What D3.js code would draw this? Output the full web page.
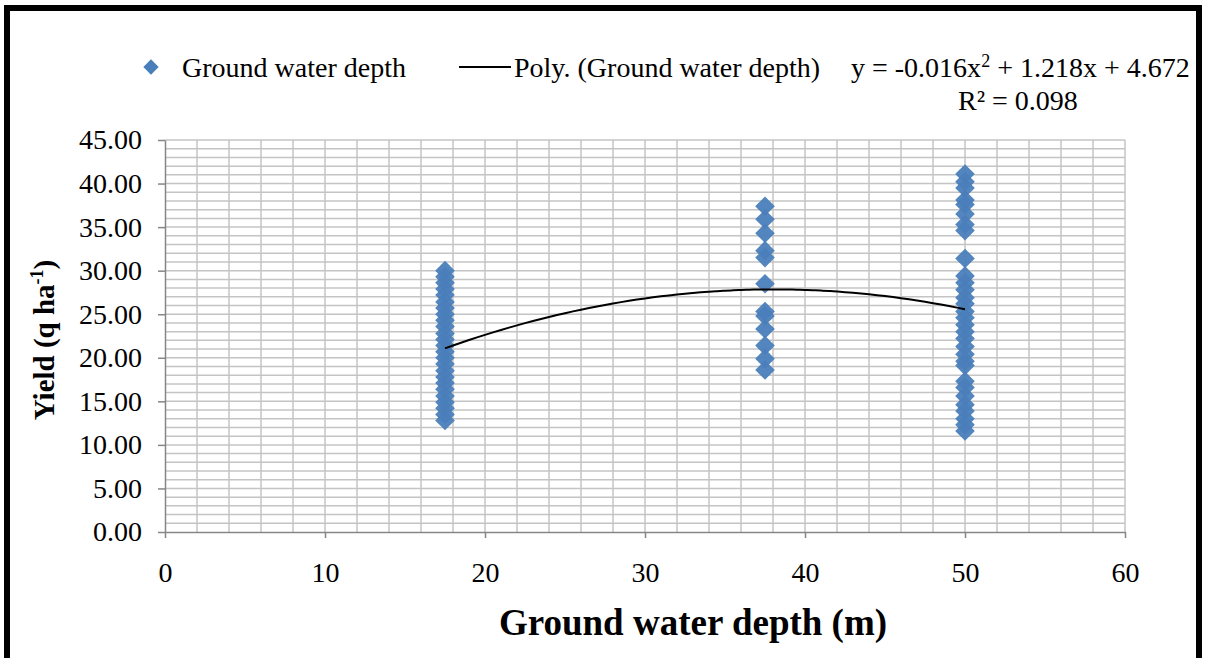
<!DOCTYPE html>
<html>
<head>
<meta charset="utf-8">
<script src="https://cdn.jsdelivr.net/npm/d3@7"></script>
<style>
  body { margin: 0; background: #fff; }
  svg text { font-family: "Liberation Serif", "Times New Roman", serif; }
</style>
</head>
<body>
<div id="chart"></div>
<script>
// depth groups (m) and yields
var depth1 = 17.5;
var yield1 = [30.0, 29.3, 28.6, 27.9, 27.2, 26.4, 25.7, 25.0, 24.3, 23.6, 22.8, 22.1, 21.4, 20.7, 20.0, 19.3, 18.5, 17.8, 17.1, 16.4, 15.6, 14.9, 14.2, 13.5, 12.8];
var depth2 = 37.5;
var yield2 = [37.4, 35.9, 34.3, 32.3, 31.5, 28.5, 25.3, 24.8, 23.3, 21.4, 19.9, 18.6];
var depth3 = 50;
var yield3 = [41.1, 40.2, 39.5, 38.1, 37.6, 36.5, 35.3, 34.6, 31.4, 29.4, 28.6, 27.8, 26.9, 26.2, 25.3, 24.6, 23.8, 23.0, 22.2, 21.3, 20.4, 19.6, 19.1, 17.3, 16.6, 15.6, 14.6, 13.9, 13.0, 12.3, 11.6];

// polynomial trend as printed on the chart: y = a x^2 + b x + c
var polyCoef = [-0.016, 1.218, 4.672];
var polyRange = [17.5, 50];

var xTicks = [0, 10, 20, 30, 40, 50, 60];
var yTicks = [0, 5, 10, 15, 20, 25, 30, 35, 40, 45];

var points = [];
yield1.forEach(function(v) { points.push({ x: depth1, y: v }); });
yield2.forEach(function(v) { points.push({ x: depth2, y: v }); });
yield3.forEach(function(v) { points.push({ x: depth3, y: v }); });

var W = 1207, H = 658;
var margin = { top: 140, right: 82, bottom: 126, left: 165 };
var width = W - margin.left - margin.right,
    height = H - margin.top - margin.bottom;

var root = d3.select("#chart").append("svg")
    .attr("width", W)
    .attr("height", H);

// outer black frame
root.append("rect")
    .attr("x", 7).attr("y", 8)
    .attr("width", 1192).attr("height", 660)
    .attr("fill", "none")
    .attr("stroke", "#000")
    .attr("stroke-width", 6);

var svg = root.append("g")
    .attr("transform", "translate(" + margin.left + "," + margin.top + ")");

var x = d3.scaleLinear().domain([0, 60]).range([0, width]);
var y = d3.scaleLinear().domain([0, 45]).range([height, 0]);

// minor gridlines: every 1 on y, every 2 on x
svg.append("g")
    .selectAll("line")
    .data(d3.range(1, 46, 1))
    .enter().append("line")
    .attr("x1", 0).attr("x2", width)
    .attr("y1", function(d) { return y(d); })
    .attr("y2", function(d) { return y(d); })
    .attr("stroke", "#c4c4c4")
    .attr("stroke-width", 1.5);

svg.append("g")
    .selectAll("line")
    .data(d3.range(2, 61, 2))
    .enter().append("line")
    .attr("y1", 0).attr("y2", height)
    .attr("x1", function(d) { return x(d); })
    .attr("x2", function(d) { return x(d); })
    .attr("stroke", "#c4c4c4")
    .attr("stroke-width", 1.5);

// axes
var xAxis = svg.append("g")
    .attr("transform", "translate(0," + height + ")")
    .call(d3.axisBottom(x).tickValues(xTicks).tickSize(6).tickSizeOuter(0).tickPadding(24));
var yAxis = svg.append("g")
    .call(d3.axisLeft(y).tickValues(yTicks).tickSize(7).tickSizeOuter(0).tickPadding(16)
        .tickFormat(function(d) { return d.toFixed(2); }));

[xAxis, yAxis].forEach(function(a) {
    a.select(".domain").attr("stroke", "#868686").attr("stroke-width", 1.5);
    a.selectAll(".tick line").attr("stroke", "#868686").attr("stroke-width", 1.5);
    a.selectAll("text")
        .style("font-family", "Liberation Serif, serif")
        .style("font-size", "28px")
        .attr("fill", "#000");
});

// diamonds
var diamond = d3.symbol().type(d3.symbolDiamond2).size(245);
svg.append("g")
    .selectAll("path")
    .data(points)
    .enter().append("path")
    .attr("d", diamond)
    .attr("transform", function(d) { return "translate(" + x(d.x) + "," + y(d.y) + ")"; })
    .attr("fill", "#4a7ebb")
    .attr("fill-opacity", 0.95);

// trend line
var trendX = d3.range(polyRange[0], polyRange[1] + 0.01, 0.5);
var line = d3.line()
    .x(function(d) { return x(d); })
    .y(function(d) { return y(polyCoef[0] * d * d + polyCoef[1] * d + polyCoef[2]); })
    .curve(d3.curveBasis);
svg.append("path")
    .datum(trendX)
    .attr("d", line)
    .attr("fill", "none")
    .attr("stroke", "#000")
    .attr("stroke-width", 2);

// axis titles
root.append("text")
    .attr("x", 693).attr("y", 635)
    .attr("text-anchor", "middle")
    .style("font-size", "37px")
    .style("font-weight", "bold")
    .text("Ground water depth (m)");

var yt = root.append("text")
    .attr("transform", "translate(54,340) rotate(-90)")
    .attr("text-anchor", "middle")
    .style("font-size", "29px")
    .style("font-weight", "bold");
yt.append("tspan").text("Yield (q ha");
yt.append("tspan").attr("dy", -11).style("font-size", "18px").text("-1");
yt.append("tspan").attr("dy", 11).text(")");

// legend
var legend = root.append("g");
legend.append("path")
    .attr("d", d3.symbol().type(d3.symbolDiamond2).size(150))
    .attr("transform", "translate(151,67)")
    .attr("fill", "#4a7ebb");
legend.append("text")
    .attr("x", 182).attr("y", 77)
    .style("font-size", "28px")
    .text("Ground water depth");
legend.append("line")
    .attr("x1", 459).attr("x2", 511)
    .attr("y1", 67).attr("y2", 67)
    .attr("stroke", "#000").attr("stroke-width", 2);
legend.append("text")
    .attr("x", 514).attr("y", 77)
    .style("font-size", "28px")
    .text("Poly. (Ground water depth)");

var eq = legend.append("text")
    .attr("x", 851).attr("y", 77)
    .style("font-size", "28px");
eq.append("tspan").text("y = -0.016x");
eq.append("tspan").attr("dy", -10).style("font-size", "18px").text("2");
eq.append("tspan").attr("dy", 10).text(" + 1.218x + 4.672");
legend.append("text")
    .attr("x", 958).attr("y", 110)
    .style("font-size", "28px")
    .text("R² = 0.098");
</script>
</body>
</html>
